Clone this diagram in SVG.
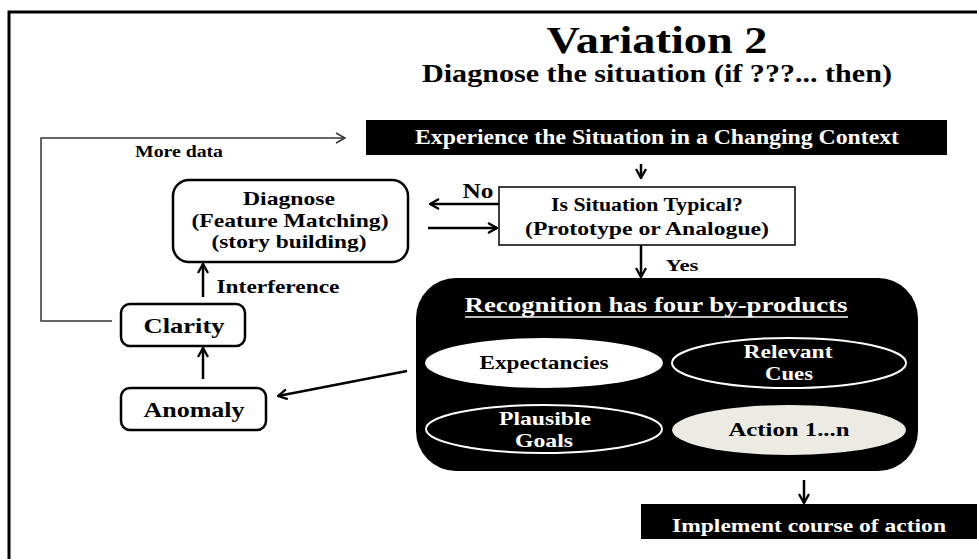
<svg xmlns="http://www.w3.org/2000/svg" width="977" height="559" viewBox="0 0 977 559">
<style>
text{font-family:"Liberation Serif","Times New Roman",serif;font-weight:bold;text-anchor:middle}
.w{fill:#fff}
.box{fill:#fff;stroke:#000;stroke-width:2.5}
.bar{fill:#000}
.con{fill:none;stroke:#000;stroke-width:2.5}
.thin{fill:none;stroke:#333;stroke-width:1.5}
.ov{stroke:#fff;stroke-width:2}
</style>
<defs>
<marker id="ah" viewBox="0 0 12 12" refX="11" refY="6" markerWidth="12" markerHeight="12" markerUnits="userSpaceOnUse" orient="auto"><path d="M2,1 L11,6 L2,11" fill="none" stroke="#000" stroke-width="2.3"/></marker>
<marker id="ah2" viewBox="0 0 12 12" refX="11" refY="6" markerWidth="12" markerHeight="12" markerUnits="userSpaceOnUse" orient="auto"><path d="M2,1 L11,6 L2,11" fill="none" stroke="#333" stroke-width="1.5"/></marker>
</defs>
<rect x="9" y="12" width="1000" height="600" fill="#fff" stroke="#000" stroke-width="3"/>
<g id="title">
<text x="657" y="53" font-size="37" textLength="221" lengthAdjust="spacingAndGlyphs">Variation 2</text>
<text x="657" y="82" font-size="24.5" textLength="470" lengthAdjust="spacingAndGlyphs">Diagnose the situation (if ???... then)</text>
</g>
<g id="connectors">
<polyline class="thin" points="112,321 41,321 41,138 345,138" marker-end="url(#ah2)"/>
<line class="con" x1="641" y1="164" x2="641" y2="178" marker-end="url(#ah)"/>
<line class="con" x1="499" y1="204" x2="430" y2="204" marker-end="url(#ah)"/>
<line class="con" x1="428" y1="228" x2="497" y2="228" marker-end="url(#ah)"/>
<line class="con" x1="641" y1="245" x2="641" y2="277" marker-end="url(#ah)"/>
<line class="con" x1="203" y1="297" x2="203" y2="264" marker-end="url(#ah)"/>
<line class="con" x1="203" y1="379" x2="203" y2="348" marker-end="url(#ah)"/>
<line class="con" x1="407" y1="371" x2="278" y2="396" marker-end="url(#ah)"/>
<line class="con" x1="804" y1="480" x2="804" y2="503" marker-end="url(#ah)"/>
<text x="179" y="157" font-size="16" textLength="88" lengthAdjust="spacingAndGlyphs">More data</text>
<text x="478" y="198" font-size="20" textLength="31" lengthAdjust="spacingAndGlyphs">No</text>
<text x="682" y="271" font-size="17" textLength="33" lengthAdjust="spacingAndGlyphs">Yes</text>
<text x="278" y="293" font-size="19" textLength="123" lengthAdjust="spacingAndGlyphs">Interference</text>
</g>
<g id="experience">
<rect class="bar" x="366" y="120" width="581" height="35"/>
<text class="w" x="657" y="144" font-size="20.5" textLength="484" lengthAdjust="spacingAndGlyphs">Experience the Situation in a Changing Context</text>
</g>
<g id="typical">
<rect x="499" y="187" width="296" height="58" fill="#fff" stroke="#000" stroke-width="1.5"/>
<text x="647" y="211" font-size="18.5" textLength="192" lengthAdjust="spacingAndGlyphs">Is Situation Typical?</text>
<text x="647" y="235" font-size="18.5" textLength="244" lengthAdjust="spacingAndGlyphs">(Prototype or Analogue)</text>
</g>
<g id="diagnose">
<rect class="box" x="173" y="180" width="235" height="82" rx="16"/>
<text x="289" y="205" font-size="19" textLength="92" lengthAdjust="spacingAndGlyphs">Diagnose</text>
<text x="290" y="227" font-size="19" textLength="197" lengthAdjust="spacingAndGlyphs">(Feature Matching)</text>
<text x="289" y="248" font-size="19" textLength="155" lengthAdjust="spacingAndGlyphs">(story building)</text>
</g>
<g id="clarity">
<rect class="box" x="121" y="304" width="124" height="42" rx="9"/>
<text x="184" y="333" font-size="22" textLength="81" lengthAdjust="spacingAndGlyphs">Clarity</text>
</g>
<g id="anomaly">
<rect class="box" x="121" y="388" width="145" height="42" rx="9"/>
<text x="194" y="417" font-size="22" textLength="101" lengthAdjust="spacingAndGlyphs">Anomaly</text>
</g>
<g id="recognition">
<rect class="bar" x="416" y="278" width="502" height="193" rx="40"/>
<text class="w" x="656" y="312" font-size="22" textLength="383" lengthAdjust="spacingAndGlyphs">Recognition has four by-products</text>
<line x1="465" y1="317" x2="848" y2="317" stroke="#fff" stroke-width="1.5"/>
<g id="expectancies">
<ellipse cx="544" cy="363" rx="119" ry="25" fill="#fff"/>
<text x="544" y="369" font-size="19" textLength="129" lengthAdjust="spacingAndGlyphs">Expectancies</text>
</g>
<g id="relevant">
<ellipse class="ov" cx="789" cy="363" rx="117" ry="25" fill="#000"/>
<text class="w" x="788" y="358" font-size="19" textLength="89" lengthAdjust="spacingAndGlyphs">Relevant</text>
<text class="w" x="789" y="380" font-size="19" textLength="48" lengthAdjust="spacingAndGlyphs">Cues</text>
</g>
<g id="plausible">
<ellipse class="ov" cx="544" cy="429" rx="118" ry="24" fill="#000"/>
<text class="w" x="545" y="425" font-size="19" textLength="92" lengthAdjust="spacingAndGlyphs">Plausible</text>
<text class="w" x="544" y="447" font-size="19" textLength="58" lengthAdjust="spacingAndGlyphs">Goals</text>
</g>
<g id="action">
<ellipse cx="789" cy="430" rx="117" ry="25" fill="#ecebe3"/>
<text x="789" y="436" font-size="19" textLength="121" lengthAdjust="spacingAndGlyphs">Action 1...n</text>
</g>
</g>
<g id="implement">
<rect class="bar" x="641" y="504" width="340" height="35"/>
<text class="w" x="809" y="532" font-size="19" textLength="274" lengthAdjust="spacingAndGlyphs">Implement course of action</text>
</g>
</svg>
